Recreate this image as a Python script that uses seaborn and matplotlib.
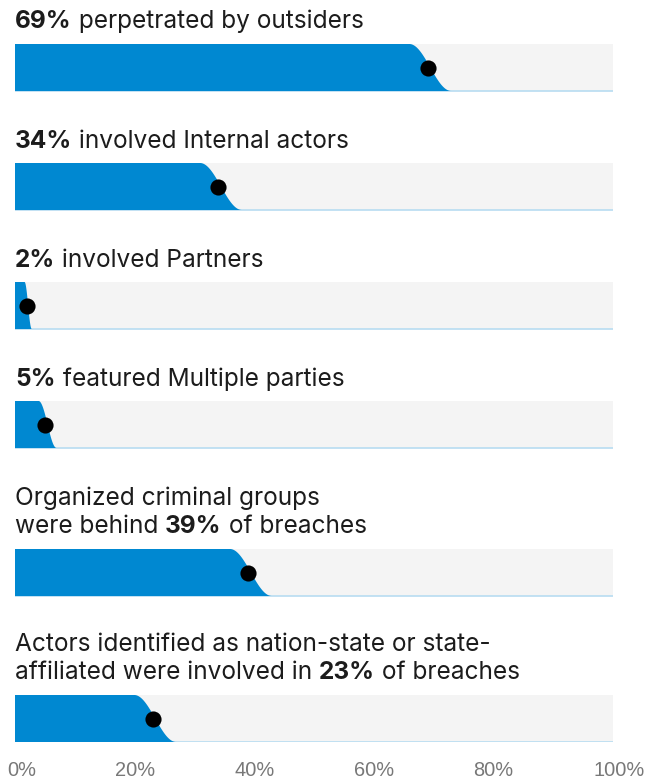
import numpy as np
import matplotlib
matplotlib.use("Agg")
import matplotlib.pyplot as plt
import matplotlib.transforms as mtransforms
import seaborn as sns

# Share of breaches by threat actor type
values = [69, 34, 2, 5, 39, 23]

# Label lines per row: each line is a list of (text, bold) pieces
label_lines = [
    [[("69%", True), (" perpetrated by outsiders", False)]],
    [[("34%", True), (" involved Internal actors", False)]],
    [[("2%", True), (" involved Partners", False)]],
    [[("5%", True), (" featured Multiple parties", False)]],
    [[("Organized criminal groups", False)],
     [("were behind ", False), ("39%", True), (" of breaches", False)]],
    [[("Actors identified as nation-state or state-", False)],
     [("affiliated were involved in ", False), ("23%", True), (" of breaches", False)]],
]

tick_values = [0, 20, 40, 60, 80, 100]
tick_labels = ["0%", "20%", "40%", "60%", "80%", "100%"]

# Layout (figure pixels, measured from the top)
W, H = 665, 780
bar_tops = [44, 163, 282, 401, 549, 695]
bar_h = 47
line_baselines = [[28], [148], [267], [386], [505, 533], [651, 679]]
x_left, x_right = 15, 613

BLUE = "#0088d1"
TRACK = "#f4f4f4"
EDGE = "#b7dcf1"
TEXT = "#1c1c1c"

sns.set_theme(style="white")
plt.rcParams["font.family"] = ["Inter", "DejaVu Sans"]

fig = plt.figure(figsize=(W / 100, H / 100), dpi=100)
ax_bottom = bar_tops[-1] + bar_h
ax = fig.add_axes([x_left / W, 1 - ax_bottom / H, (x_right - x_left) / W, ax_bottom / H])
ax.set_xlim(0, 100)
ax.set_ylim(ax_bottom, 0)

for v, top in zip(values, bar_tops):
    bottom = top + bar_h
    # grey track and its thin bottom rule
    ax.fill([0, 100, 100, 0], [top, top, bottom, bottom], color=TRACK, lw=0, zorder=1)
    ax.hlines(bottom - 0.5, 0, 100, color=EDGE, lw=1.2, zorder=1.5)
    # blue fill with an eased right edge passing close to the value at mid-height
    w = min(3.5, 0.3 * v)
    c = v + min(0.45, 0.1 * v)
    s = np.linspace(0, 1, 80)
    cx = np.clip(c - w + 2 * w * s, 0, None)
    cy = top + bar_h * (1 - np.cos(np.pi * s)) / 2
    px = np.concatenate([[0], cx, [0]])
    py = np.concatenate([[top], cy, [bottom]])
    ax.fill(px, py, color=BLUE, lw=0, zorder=2)

centers = [t + bar_h / 2 for t in bar_tops]
sns.scatterplot(x=values, y=centers, ax=ax, s=135, color="black",
                linewidth=0, zorder=3, legend=False)

ax.set_xticks(tick_values)
ax.set_xticklabels(tick_labels, fontsize=14.4, color="#787878",
                   family=["Liberation Sans", "DejaVu Sans"])
ax.set_yticks([])
ax.tick_params(axis="x", length=0, pad=14)
# outer labels sit slightly inside/right of their ticks
ticklabs = ax.get_xticklabels()
for lab, dx in ((ticklabs[0], 7), (ticklabs[-1], 6)):
    lab.set_transform(lab.get_transform() +
                      mtransforms.ScaledTranslation(dx / 100, 0, fig.dpi_scale_trans))
for sp in ax.spines.values():
    sp.set_visible(False)
ax.set_xlabel("")
ax.set_ylabel("")
ax.patch.set_alpha(0)

# Row labels with mixed weights, laid out piece by piece
renderer = fig.canvas.get_renderer()
for lines, baselines in zip(label_lines, line_baselines):
    for pieces, base in zip(lines, baselines):
        xpx = x_left
        for text, bold in pieces:
            t = fig.text(xpx / W, 1 - base / H, text, fontsize=17.6,
                         fontweight="bold" if bold else "normal",
                         color=TEXT, ha="left", va="baseline")
            xpx += t.get_window_extent(renderer).width

fig.savefig("out.png", dpi=100)
